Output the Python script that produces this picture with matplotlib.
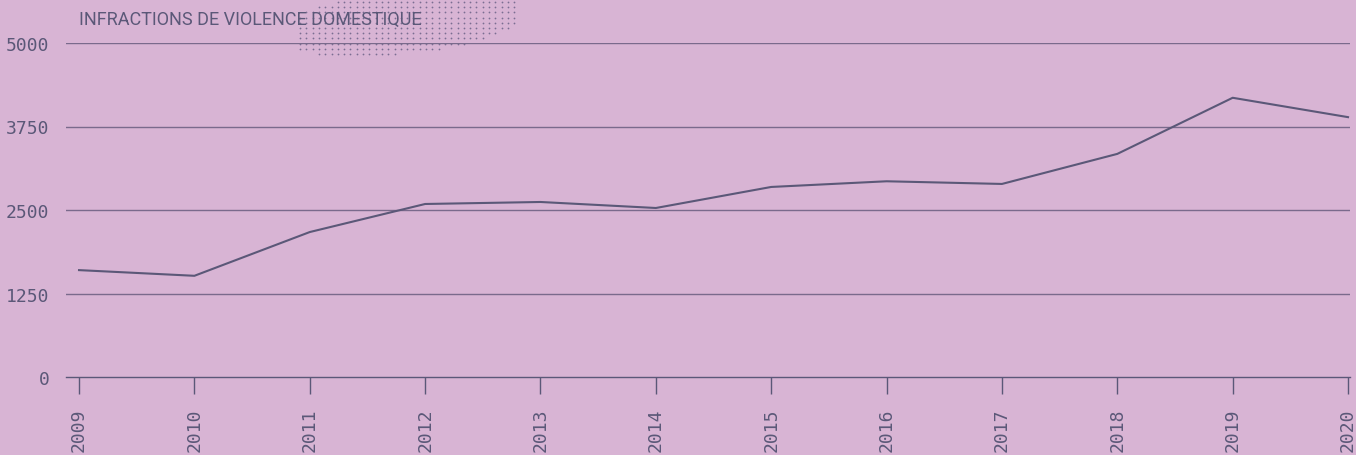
import numpy as np
import matplotlib
matplotlib.use("Agg")
import matplotlib.pyplot as plt

years = [2009, 2010, 2011, 2012, 2013, 2014, 2015, 2016, 2017, 2018, 2019, 2020]
infractions = [1600, 1515, 2170, 2590, 2620, 2530, 2845, 2930, 2890, 3340, 4180, 3890]
yticks = [0, 1250, 2500, 3750, 5000]
title = "INFRACTIONS DE VIOLENCE DOMESTIQUE"

bg = "#d8b4d4"
ink = "#5b5878"
grid = "#7a6a8c"

fig = plt.figure(figsize=(13.56, 4.56), dpi=100, facecolor=bg)

# halftone dots behind the title (decoration)
dots = fig.add_axes([0, 0, 1, 1], zorder=0)
dots.set_xlim(0, 1356)
dots.set_ylim(456, 0)
dots.axis("off")
dx, dy = np.meshgrid(np.arange(300, 520, 6.3), np.arange(3, 56, 5.2))
cx, cy = 400, 24
u, v = (dx - cx) / 118, (dy - cy) / 31
inside = u ** 2 + v ** 2 + 0.7 * u * v < 1
dots.scatter(dx[inside], dy[inside], s=1.6, color="#7a6e92", linewidths=0)

ax = fig.add_axes([66 / 1356, 1 - 378 / 456, (1350 - 66) / 1356, (378 - 44) / 456], zorder=1)
ax.patch.set_alpha(0)

ax.plot(years, infractions, color=ink, lw=1.5, zorder=3)

ax.set_xlim(2008.887, 2020.017)
ax.set_ylim(0, 5000)
ax.set_yticks(yticks)
ax.set_xticks(years)
ax.set_xticklabels([str(y) for y in years], rotation=90, family="DejaVu Sans Mono",
                   fontsize=13, color=ink)
ax.set_yticklabels([str(v) for v in yticks], family="DejaVu Sans Mono",
                   fontsize=13, color=ink)
ax.tick_params(axis="y", length=0, pad=12)
ax.tick_params(axis="x", length=12, width=1, color=ink, pad=10)
for v in yticks[1:]:
    ax.axhline(v, color=grid, lw=1, zorder=1)
for s in ["top", "right", "left"]:
    ax.spines[s].set_visible(False)
ax.spines["bottom"].set_color(ink)
ax.spines["bottom"].set_linewidth(1)

fig.text(79 / 1356, 1 - 20 / 456, title, family="Roboto", fontsize=13,
         color=ink, va="center", ha="left", zorder=2)

fig.savefig("out.png", dpi=100, facecolor=bg)
